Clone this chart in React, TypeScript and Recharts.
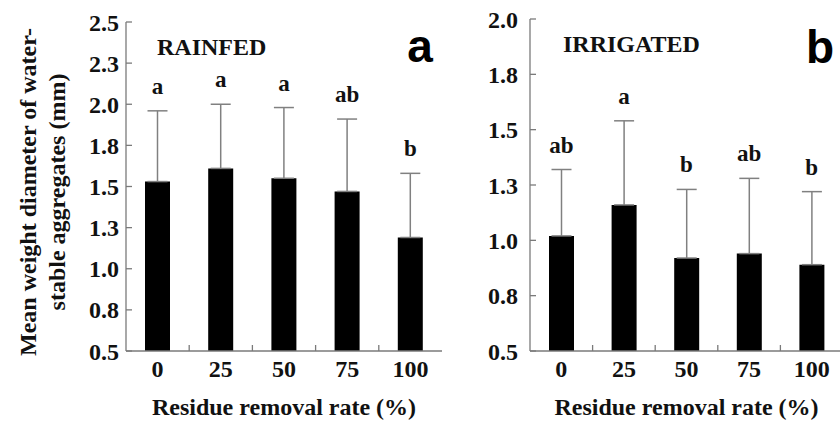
import {
  ComposedChart,
  Bar,
  Line,
  XAxis,
  YAxis,
  ErrorBar,
  LabelList,
} from "recharts";

const rates = ["0", "25", "50", "75", "100"];

const rainfedMean = [1.53, 1.61, 1.55, 1.47, 1.19];
const rainfedSd = [0.43, 0.39, 0.43, 0.44, 0.39];
const rainfedLetters = ["a", "a", "a", "ab", "b"];

const irrigatedMean = [1.02, 1.16, 0.92, 0.94, 0.89];
const irrigatedSd = [0.3, 0.38, 0.31, 0.34, 0.33];
const irrigatedLetters = ["ab", "a", "b", "ab", "b"];

const rainfedTicks = [0.5, 0.75, 1, 1.25, 1.5, 1.75, 2, 2.25, 2.5];
const irrigatedTicks = [0.5, 0.75, 1, 1.25, 1.5, 1.75, 2];

const SERIF = '"Liberation Serif", "Times New Roman", serif';
const SANS = '"Liberation Sans", Arial, sans-serif';
const INK = "#111";
const FRAME = "#7a7a7a";
const X_TICK_MARGIN = 9;

function buildRows(mean: number[], sd: number[], letters: string[]) {
  return rates.map((rate, i) => ({
    rate,
    mean: mean[i],
    err: [0, sd[i]],
    top: mean[i] + sd[i],
    letter: letters[i],
  }));
}

const rainfedRows = buildRows(rainfedMean, rainfedSd, rainfedLetters);
const irrigatedRows = buildRows(irrigatedMean, irrigatedSd, irrigatedLetters);

// category labels at the band centre, small inward ticks at the band edges
function makeXTick(bandHalf: number) {
  return (props: any) => {
    const { x, y, payload, index } = props;
    const axisY = y - X_TICK_MARGIN;
    return (
      <g>
        <text
          x={x}
          y={y}
          dy="0.71em"
          textAnchor="middle"
          fontFamily={SERIF}
          fontWeight="bold"
          fontSize={24}
          fill={INK}
        >
          {payload.value}
        </text>
        {index < rates.length - 1 && (
          <line
            x1={x + bandHalf}
            x2={x + bandHalf}
            y1={axisY}
            y2={axisY - 6}
            stroke={FRAME}
            strokeWidth={1.3}
          />
        )}
      </g>
    );
  };
}

const renderLetter = (p: any) => {
  const x = p.x ?? p.viewBox?.x;
  const y = p.y ?? p.viewBox?.y;
  return (
    <text
      x={x}
      y={y - 17}
      textAnchor="middle"
      fontFamily={SERIF}
      fontWeight="bold"
      fontSize={23}
      fill={INK}
    >
      {p.value}
    </text>
  );
};

const renderXTitle = (p: any) => {
  const vb = p.viewBox;
  return (
    <text
      x={vb.x + vb.width / 2}
      y={vb.y + 64}
      textAnchor="middle"
      fontFamily={SERIF}
      fontWeight="bold"
      fontSize={24}
      fill={INK}
    >
      Residue removal rate (%)
    </text>
  );
};

const renderYTitle = () => (
  <g fontFamily={SERIF} fontWeight="bold" fontSize={24} fill={INK}>
    <text x={36} y={192} textAnchor="middle" transform="rotate(-90, 36, 192)">
      Mean weight diameter of water-
    </text>
    <text x={65} y={192} textAnchor="middle" transform="rotate(-90, 65, 192)">
      stable aggregates (mm)
    </text>
  </g>
);

interface PanelProps {
  rows: any[];
  ticks: number[];
  width: number;
  margin: { top: number; right: number; bottom: number; left: number };
  yAxisWidth: number;
  tickMargin: number;
  title: string;
  titleX: number;
  titleY: number;
  tag: string;
  tagX: number;
  tagY: number;
  yTitle?: boolean;
}

function Panel(p: PanelProps) {
  const plotW = p.width - p.margin.left - p.margin.right - p.yAxisWidth;
  const bandHalf = plotW / rates.length / 2;
  const domain = [p.ticks[0], p.ticks[p.ticks.length - 1]];
  const tickStyle = {
    fontSize: 24,
    fontWeight: "bold",
    fill: INK,
    fontFamily: SERIF,
  };

  return (
    <ComposedChart width={p.width} height={421} data={p.rows} margin={p.margin}>
      <XAxis
        dataKey="rate"
        height={70}
        tickLine={false}
        tickSize={0}
        tickMargin={X_TICK_MARGIN}
        axisLine={{ stroke: FRAME, strokeWidth: 1.3 }}
        tick={makeXTick(bandHalf)}
        interval={0}
        label={{ content: renderXTitle }}
      />
      <XAxis
        xAxisId="top"
        dataKey="rate"
        orientation="top"
        height={0}
        tick={false}
        tickLine={false}
        axisLine={{ stroke: FRAME, strokeWidth: 1.3 }}
      />
      <YAxis
        type="number"
        domain={domain}
        ticks={p.ticks}
        interval={0}
        allowDataOverflow
        width={p.yAxisWidth}
        tickSize={-6}
        tickMargin={p.tickMargin}
        tickFormatter={(v: number) => v.toFixed(1)}
        tick={tickStyle}
        tickLine={{ stroke: FRAME, strokeWidth: 1.3 }}
        axisLine={{ stroke: FRAME, strokeWidth: 1.3 }}
        label={p.yTitle ? { content: renderYTitle } : undefined}
      />
      <YAxis
        yAxisId="right"
        orientation="right"
        type="number"
        domain={domain}
        allowDataOverflow
        width={0}
        tick={false}
        tickLine={false}
        axisLine={{ stroke: FRAME, strokeWidth: 1.3 }}
      />
      <Bar dataKey="mean" fill="#000" barSize={25} isAnimationActive={false}>
        <ErrorBar
          dataKey="err"
          direction="y"
          width={10}
          stroke="#808080"
          strokeWidth={1.5}
          isAnimationActive={false}
        />
      </Bar>
      <Line
        dataKey="top"
        stroke="none"
        dot={false}
        activeDot={false}
        isAnimationActive={false}
      >
        <LabelList dataKey="letter" content={renderLetter} />
      </Line>
      <text
        x={p.titleX}
        y={p.titleY}
        fontFamily={SERIF}
        fontWeight="bold"
        fontSize={24}
        fill={INK}
      >
        {p.title}
      </text>
      <text
        x={p.tagX}
        y={p.tagY}
        textAnchor="middle"
        fontFamily={SANS}
        fontWeight="bold"
        fontSize={46}
        fill="#000"
      >
        {p.tag}
      </text>
    </ComposedChart>
  );
}

export default function App() {
  return (
    <div
      style={{
        position: "absolute",
        left: 0,
        top: 0,
        width: 840,
        height: 421,
        overflow: "hidden",
        background: "#fff",
      }}
    >
      <div style={{ position: "absolute", left: 0, top: 0 }}>
        <Panel
          rows={rainfedRows}
          ticks={rainfedTicks}
          width={450}
          margin={{ top: 22, right: 8, bottom: 0, left: 0 }}
          yAxisWidth={126}
          tickMargin={13}
          title="RAINFED"
          titleX={157}
          titleY={55}
          tag="a"
          tagX={420}
          tagY={62}
          yTitle
        />
      </div>
      <div style={{ position: "absolute", left: 450, top: 0 }}>
        <Panel
          rows={irrigatedRows}
          ticks={irrigatedTicks}
          width={400}
          margin={{ top: 19, right: 7, bottom: 0, left: 0 }}
          yAxisWidth={80}
          tickMargin={18}
          title="IRRIGATED"
          titleX={113}
          titleY={52}
          tag="b"
          tagX={370}
          tagY={63}
        />
      </div>
    </div>
  );
}
